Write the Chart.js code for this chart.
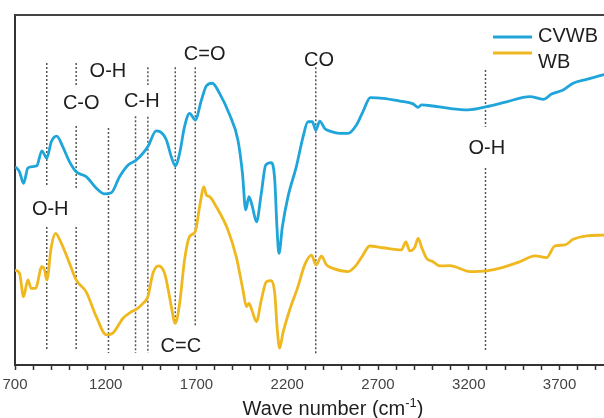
<!DOCTYPE html>
<html>
<head>
<meta charset="utf-8">
<script src="https://cdn.jsdelivr.net/npm/chart.js@4"></script>
<style>
  html, body { margin: 0; padding: 0; background: #fff; overflow: hidden; }
  #wrap { width: 620px; height: 418px; }
</style>
</head>
<body>
<div id="wrap"><canvas id="ftirChart" width="620" height="418"></canvas></div>
<script>
// spectra (wave number in cm-1, intensity in arbitrary units)
const cvwbWave = [700, 725, 747, 771, 798, 820, 848, 863, 875, 900, 930, 963, 1000, 1037, 1092, 1148, 1193, 1230, 1276, 1322,
  1364, 1405, 1432, 1478, 1497, 1534, 1561, 1583, 1607, 1634, 1662, 1693, 1727, 1754, 1787, 1827, 1883, 1928, 1953, 1971,
  1989, 2008, 2030, 2057, 2081, 2112, 2131, 2143, 2154, 2173, 2204, 2250, 2287, 2314, 2338, 2357, 2379, 2406, 2443, 2489,
  2535, 2581, 2617, 2658, 2728, 2820, 2893, 2921, 2939, 3003, 3095, 3196, 3298, 3408, 3537, 3610, 3656, 3720, 3775, 3849,
  3940, 4000];
const cvwbValue = [56.7, 55.2, 51.9, 56.3, 56.7, 56.9, 61.2, 60, 59.1, 63.8, 65.4, 62.4, 58.1, 55.2, 53.8, 50.5, 48.9, 49.2, 53.8, 57.1,
  58.4, 60.5, 62.4, 66.9, 66.7, 64.3, 59.5, 56.9, 60.5, 68.1, 71.9, 70, 75.7, 79.7, 80.5, 77.6, 71.4, 64.3, 54.8, 44.3,
  48.1, 45.2, 40.9, 49.1, 57.1, 57.8, 52.9, 39.5, 31.9, 39.5, 48.1, 56.7, 65.2, 69.5, 69.5, 67.1, 69.7, 67.6, 66.7, 66.2,
  66.2, 68.6, 72.4, 76.4, 76.2, 75.4, 74.6, 73.6, 74.3, 74, 73.3, 72.9, 73.8, 75.2, 76.7, 75.9, 77.4, 78.6, 80.5, 81.6,
  82.9, 83.5];

const wbWave = [700, 725, 747, 771, 789, 813, 848, 863, 875, 900, 923, 955, 1000, 1037, 1092, 1148, 1203, 1239, 1294, 1341,
  1368, 1405, 1432, 1460, 1491, 1524, 1548, 1561, 1583, 1607, 1634, 1662, 1693, 1717, 1741, 1754, 1772, 1809, 1873, 1919,
  1956, 1975, 1989, 2008, 2030, 2057, 2085, 2112, 2131, 2145, 2158, 2176, 2213, 2259, 2296, 2333, 2359, 2388, 2416, 2452,
  2535, 2581, 2617, 2654, 2728, 2829, 2853, 2875, 2902, 2921, 2939, 2967, 3003, 3040, 3095, 3206, 3298, 3389, 3481, 3564,
  3628, 3674, 3729, 3775, 3849, 3940, 4000];
const wbValue = [27.1, 26.2, 19.5, 24.3, 21.9, 21.9, 28.1, 27.1, 24.3, 33.8, 37.6, 34.8, 29.1, 24.3, 20.9, 13.8, 8.6, 9.1, 13.3, 15.2,
  15.9, 17.6, 19.5, 26.2, 28.3, 26.2, 20.5, 16.7, 11.9, 17.6, 30, 36.7, 38.1, 45.2, 50.9, 48.6, 48.1, 45.2, 38.6, 30.9,
  21.4, 16.7, 17.6, 15.2, 12.4, 18.6, 23.8, 24.1, 20.5, 10, 4.8, 9.1, 15.7, 22.4, 28.6, 31.4, 28.6, 31.1, 28.6, 27.6,
  26.7, 28.6, 31.4, 34, 33.5, 32.9, 35.2, 32.6, 33.6, 36.2, 33.8, 30.5, 29.5, 28.3, 28.4, 26.7, 26.9, 27.9, 29.5, 31.2,
  30.7, 34, 34.3, 35.9, 36.9, 37.1, 37.2];

// dotted band markers: wave number and the [from, to] stretches that are drawn
const markerWave = [875, 1037, 1215, 1364, 1432, 1583, 1693, 2357, 3292];
const markerSpans = [
  [[86.3, 50.9], [39.4, 4.3]],
  [[86.3, 80], [68.3, 50.6], [39.4, 4.3]],
  [[67.7, 3.4]],
  [[71.1, 3.4]],
  [[85.1, 80], [70.9, 3.4]],
  [[85.1, 12]],
  [[85.1, 10.9]],
  [[85.1, 2.9]],
  [[84.3, 68], [56.3, 3.7]]
];

// band labels
const bandText = ['O-H', 'C-O', 'C-H', 'C=O', 'CO', 'O-H', 'O-H', 'C=C'];
const bandWave = [1212, 1065, 1399, 1745, 2375, 3299, 894, 1614];
const bandValue = [83.8, 74.8, 75.2, 88.6, 87.1, 61.9, 44.3, 5.2];

const xTickLabels = [700, 1200, 1700, 2200, 2700, 3200, 3700];

const FONT = '"Liberation Sans", Arial, sans-serif';
const INK = '#1e1e1e';

function toPoints(xs, ys) {
  return xs.map((x, i) => ({ x: x, y: ys[i] }));
}

const markerPoints = [];
markerWave.forEach((w, i) => {
  markerSpans[i].forEach(s => {
    markerPoints.push({ x: w, y: s[0] }, { x: w, y: s[1] }, { x: w, y: null });
  });
});

const decorPlugin = {
  id: 'ftirDecor',
  afterDatasetsDraw(chart) {
    const { ctx, chartArea: a, scales: { x, y } } = chart;
    ctx.save();

    // top and right edge of the frame
    ctx.strokeStyle = '#444';
    ctx.lineWidth = 2;
    ctx.beginPath();
    ctx.moveTo(a.left, a.top);
    ctx.lineTo(a.right, a.top);
    ctx.lineTo(a.right, a.bottom);
    ctx.stroke();

    // band labels
    ctx.fillStyle = INK;
    ctx.font = '20px ' + FONT;
    ctx.textAlign = 'center';
    ctx.textBaseline = 'middle';
    bandText.forEach((t, i) => {
      ctx.fillText(t, x.getPixelForValue(bandWave[i]), y.getPixelForValue(bandValue[i]));
    });

    // legend
    const lineY = [37, 53];
    const textY = [36, 62];
    chart.data.datasets.slice(0, 2).forEach((ds, i) => {
      ctx.strokeStyle = ds.borderColor;
      ctx.lineWidth = 3;
      ctx.beginPath();
      ctx.moveTo(493, lineY[i]);
      ctx.lineTo(532, lineY[i]);
      ctx.stroke();
      ctx.textAlign = 'left';
      ctx.fillText(ds.label, 538, textY[i]);
    });

    // x axis title with superscript
    const main = 'Wave number (cm';
    const sup = '-1';
    const tail = ')';
    ctx.textBaseline = 'alphabetic';
    ctx.font = '20px ' + FONT;
    const w1 = ctx.measureText(main).width;
    const w3 = ctx.measureText(tail).width;
    ctx.font = '13px ' + FONT;
    const w2 = ctx.measureText(sup).width;
    let tx = 333 - (w1 + w2 + w3) / 2;
    const base = 415;
    ctx.font = '20px ' + FONT;
    ctx.fillText(main, tx, base);
    tx += w1;
    ctx.font = '13px ' + FONT;
    ctx.fillText(sup, tx, base - 8);
    tx += w2;
    ctx.font = '20px ' + FONT;
    ctx.fillText(tail, tx, base);

    ctx.restore();
  }
};

const ctx = document.getElementById('ftirChart').getContext('2d');
const ftirChart = new Chart(ctx, {
  type: 'line',
  data: {
    datasets: [{
      label: 'CVWB',
      data: toPoints(cvwbWave, cvwbValue),
      borderColor: '#1fa5da',
      borderWidth: 2.8,
      pointRadius: 0,
      cubicInterpolationMode: 'monotone',
      fill: false
    }, {
      label: 'WB',
      data: toPoints(wbWave, wbValue),
      borderColor: '#f0b81f',
      borderWidth: 2.8,
      pointRadius: 0,
      cubicInterpolationMode: 'monotone',
      fill: false
    }, {
      label: 'bands',
      data: markerPoints,
      borderColor: '#555',
      borderWidth: 1.5,
      borderDash: [2, 2],
      pointRadius: 0,
      spanGaps: false,
      fill: false
    }]
  },
  options: {
    responsive: false,
    animation: false,
    devicePixelRatio: 1,
    layout: { padding: { left: 15, top: 15, right: 6, bottom: 0 } },
    plugins: {
      legend: { display: false },
      tooltip: { enabled: false }
    },
    scales: {
      x: {
        type: 'linear',
        min: 700,
        max: 4000,
        ticks: {
          stepSize: 100,
          autoSkip: false,
          maxRotation: 0,
          padding: 6,
          color: '#444',
          font: { family: FONT, size: 15 },
          callback: v => xTickLabels.includes(v) ? String(v) : ''
        },
        grid: { drawOnChartArea: false, drawTicks: true, tickLength: 5, tickColor: '#333', tickWidth: 1.5 },
        border: { display: true, color: '#333', width: 2 },
        afterFit: s => { s.height = 53; s.paddingLeft = 0; s.paddingRight = 0; }
      },
      y: {
        min: 0,
        max: 100,
        ticks: { display: false },
        grid: { display: false },
        border: { display: true, color: '#333', width: 2 },
        afterFit: s => { s.width = 0; }
      }
    }
  },
  plugins: [decorPlugin]
});
</script>
</body>
</html>
